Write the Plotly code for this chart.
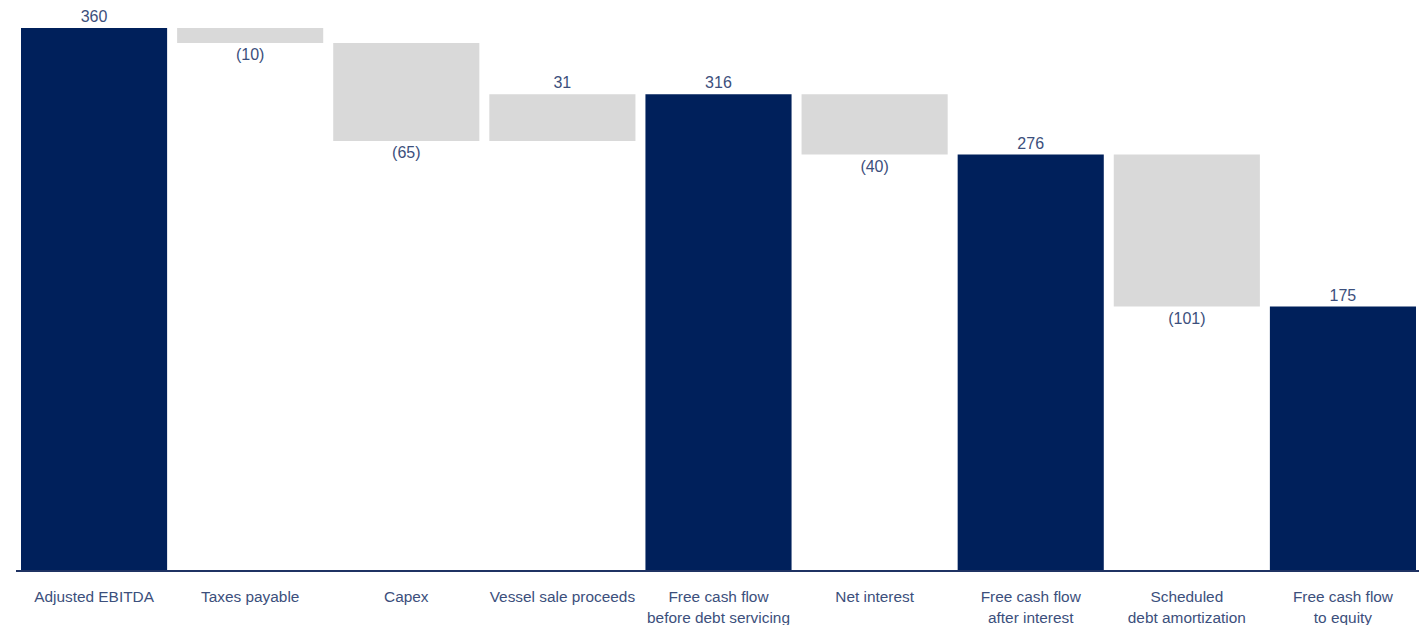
import plotly.graph_objects as go

categories = [
    "Adjusted EBITDA", "Taxes payable", "Capex", "Vessel sale proceeds",
    "Free cash flow<br>before debt servicing", "Net interest",
    "Free cash flow<br>after interest", "Scheduled<br>debt amortization",
    "Free cash flow<br>to equity",
]
measures = ["absolute", "relative", "relative", "relative", "total",
            "relative", "total", "relative", "total"]
values = [360, -10, -65, 31, 316, -40, 276, -101, 175]

labels = [f"({abs(v)})" if v < 0 else f"{v}" for v in values]

NAVY = "#00205B"
GRAY = "#D9D9D9"
TXT = "#3C4F7C"
FONT = "Liberation Sans, Arial, sans-serif"

fig = go.Figure(go.Waterfall(
    x=categories,
    y=values,
    measure=measures,
    text=labels,
    textposition="outside",
    textfont=dict(family=FONT, size=16, color=TXT),
    cliponaxis=False,
    increasing=dict(marker=dict(color=GRAY)),
    decreasing=dict(marker=dict(color=GRAY)),
    totals=dict(marker=dict(color=NAVY)),
    connector=dict(visible=False),
))

fig.update_layout(
    width=1419, height=617,
    margin=dict(l=8, r=6, t=2, b=55, autoexpand=False),
    paper_bgcolor="white", plot_bgcolor="white",
    showlegend=False,
    waterfallgap=0.064,
    font=dict(family=FONT, size=15, color=TXT),
)
fig.update_xaxes(
    showline=True, linecolor="#1F3263", linewidth=2,
    showgrid=False, ticks="", automargin=False,
    ticklabelstandoff=12,
    tickfont=dict(family=FONT, size=15.4, color=TXT),
)
fig.update_yaxes(
    range=[0, 372], visible=False, showgrid=False, zeroline=False,
    automargin=False,
)

fig.write_html("out.html")
